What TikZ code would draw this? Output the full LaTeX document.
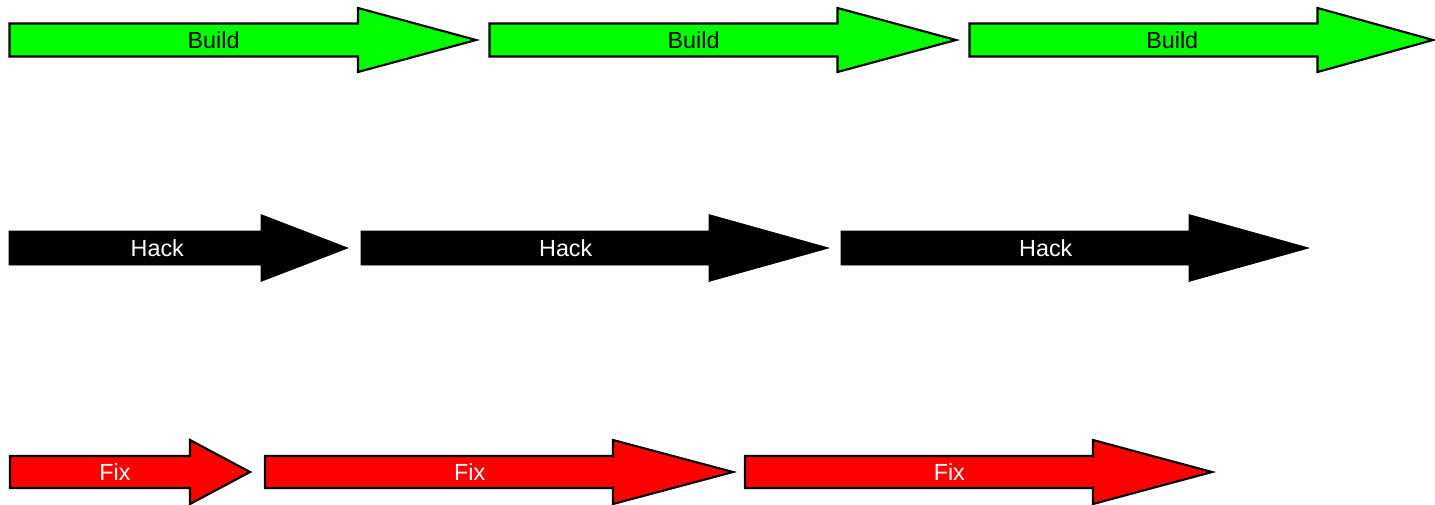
\documentclass[tikz,border=0pt]{standalone}
\usepackage{fontspec}
\setmainfont{Liberation Sans}
\usetikzlibrary{calc}
\definecolor{buildgreen}{HTML}{00FF00}
\definecolor{fixred}{HTML}{FF0000}
\tikzset{
  buildarrow/.style={fill=buildgreen, draw=black, line width=1.6pt, line join=miter},
  hackarrow/.style={fill=black, draw=black, line width=0.4pt, line join=miter},
  fixarrow/.style={fill=fixred, draw=black, line width=1.6pt, line join=miter},
  buildlabel/.style={text=black, font=\fontsize{17.5}{20}\selectfont, inner sep=0pt},
  hacklabel/.style={text=white, font=\fontsize{17.5}{20}\selectfont, inner sep=0pt},
  fixlabel/.style={text=white, font=\fontsize{17.5}{20}\selectfont, inner sep=0pt},
}
% #1 name, #2 tail x, #3 head base x, #4 tip x, #5 centre y,
% #6 shaft half height, #7 head half height, #8 style prefix, #9 label
\newcommand{\fatarrow}[9]{%
  \path[#8arrow] (#2,#5-#6) -- (#3,#5-#6) -- (#3,#5-#7) -- (#4,#5)
     -- (#3,#5+#7) -- (#3,#5+#6) -- (#2,#5+#6) -- cycle;
  \node[#8label] (#1) at ($(#2,#5)!0.4375!(#4,#5)$) {#9};
}
\begin{document}
\begin{tikzpicture}[x=0.75pt, y=-0.75pt]
\useasboundingbox (0,0) rectangle (1435,504);
% Build row
\fatarrow{build1}{9.5}{358}{476}{40}{16.5}{32}{build}{Build}
\fatarrow{build2}{489.5}{837.5}{956}{40}{16.5}{32}{build}{Build}
\fatarrow{build3}{969.5}{1317.5}{1433}{40}{16.5}{32}{build}{Build}
% Hack row
\fatarrow{hack1}{9}{261}{348}{248}{17}{33.5}{hack}{Hack}
\fatarrow{hack2}{361}{709}{829}{248}{17}{33.5}{hack}{Hack}
\fatarrow{hack3}{841}{1189}{1309}{248}{17}{33.5}{hack}{Hack}
% Fix row
\fatarrow{fix1}{10}{190}{250}{472}{16}{32}{fix}{Fix}
\fatarrow{fix2}{265}{613}{733}{472}{16}{32}{fix}{Fix}
\fatarrow{fix3}{745}{1093}{1212}{472}{16}{32}{fix}{Fix}
\end{tikzpicture}
\end{document}
